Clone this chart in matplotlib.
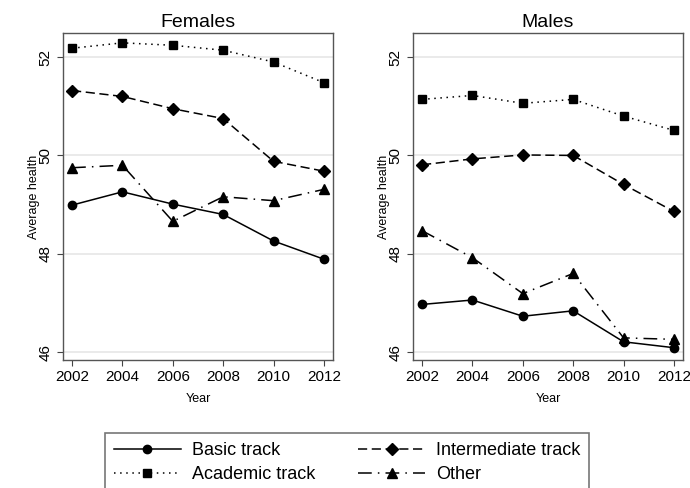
import matplotlib
matplotlib.use("Agg")
import matplotlib.pyplot as plt
from matplotlib.lines import Line2D

plt.rcParams['font.family'] = ['Liberation Sans', 'DejaVu Sans']

years = [2002, 2004, 2006, 2008, 2010, 2012]

# Females
f_basic = [48.99, 49.26, 49.01, 48.80, 48.26, 47.89]
f_inter = [51.32, 51.20, 50.95, 50.75, 49.88, 49.68]
f_acad = [52.18, 52.29, 52.24, 52.14, 51.90, 51.48]
f_other = [49.75, 49.80, 48.66, 49.16, 49.08, 49.31]

# Males
m_basic = [46.97, 47.06, 46.73, 46.84, 46.21, 46.09]
m_inter = [49.81, 49.93, 50.01, 50.00, 49.41, 48.86]
m_acad = [51.14, 51.22, 51.06, 51.14, 50.80, 50.51]
m_other = [48.47, 47.92, 47.19, 47.60, 46.29, 46.26]

labels = ["Basic track", "Intermediate track", "Academic track", "Other"]
styles = [
    dict(linestyle='-', marker='o', markersize=6),
    dict(linestyle=(0, (6, 3)), marker='D', markersize=6),
    dict(linestyle=(0, (1, 3)), marker='s', markersize=6),
    dict(linestyle=(0, (9, 4, 1, 4)), marker='^', markersize=7),
]

W, H = 690, 488
fig = plt.figure(figsize=(W / 100, H / 100), dpi=100)
ax1 = fig.add_axes([63 / W, 1 - 360 / H, 270 / W, 327 / H])
ax2 = fig.add_axes([413 / W, 1 - 360 / H, 270 / W, 327 / H])

panels = [(ax1, "Females", [f_basic, f_inter, f_acad, f_other]),
          (ax2, "Males", [m_basic, m_inter, m_acad, m_other])]

for ax, title, series in panels:
    for vals, st in zip(series, styles):
        ax.plot(years, vals, color='black', linewidth=1.1, **st)
    ax.set_xlim(2001.64, 2012.36)
    ax.set_ylim(45.84, 52.49)
    ax.set_xticks(years)
    ax.set_yticks([46, 48, 50, 52])
    ax.grid(axis='y', color='#e6e6e6', linewidth=1.2)
    ax.set_axisbelow(True)
    ax.tick_params(axis='y', labelrotation=90, labelsize=11, length=4, color='#444444')
    ax.tick_params(axis='x', labelsize=11, length=4, color='#444444')
    for lab in ax.get_yticklabels():
        lab.set_va('center')
    for sp in ax.spines.values():
        sp.set_color('#555555')
        sp.set_linewidth(1.0)
    ax.set_title(title, fontsize=14, pad=4)
    ax.set_xlabel("Year", fontsize=9, labelpad=6)
    ax.set_ylabel("Average health", fontsize=9, labelpad=-1)

order = [0, 2, 1, 3]
handles = [Line2D([], [], color='black', linewidth=1.1, **styles[i]) for i in order]
leg = fig.legend(handles, [labels[i] for i in order], ncol=2,
                 loc='upper left', bbox_to_anchor=(105 / W, 1 - 433 / H),
                 fontsize=13, handlelength=3.7, numpoints=1,
                 frameon=True, fancybox=False, edgecolor='#555555',
                 columnspacing=2.4, handletextpad=0.6, labelspacing=0.38,
                 borderpad=0.5, borderaxespad=0)
leg.get_frame().set_linewidth(1.2)

fig.savefig("out.png", dpi=100)
